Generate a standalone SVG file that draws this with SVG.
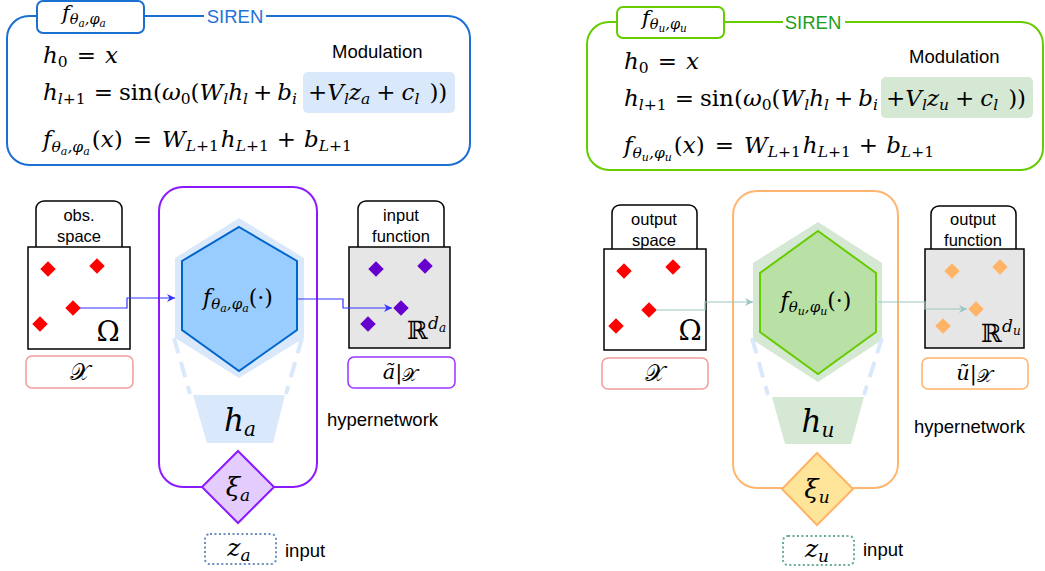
<svg xmlns="http://www.w3.org/2000/svg" width="1045" height="571" viewBox="0 0 1045 571">
<defs>
<style>
.s{font-family:"Liberation Sans",Arial,sans-serif;fill:#000}
.mi{font-family:"DejaVu Serif","Liberation Serif",serif;font-style:italic;fill:#000}
.mu{font-style:normal}
.cal{font-family:"DejaVu Serif","DejaVu Sans",serif;font-style:normal}
.ds{font-family:"DejaVu Serif","DejaVu Sans",serif;font-style:normal}
.tab{fill:#fff;stroke:#000;stroke-width:1.5}
.wbox{fill:#fff;stroke:#000;stroke-width:1.5}
.gbox{fill:#E6E6E6;stroke:#000;stroke-width:1.5}
.red{fill:#FF0000}
.pur{fill:#6600CC}
.org{fill:#FFB366}
.lbl{fill:#fff;stroke-width:1.5}
</style>
<marker id="arB" markerUnits="userSpaceOnUse" markerWidth="9" markerHeight="8" refX="8" refY="4" orient="auto"><path d="M0,0 L8,4 L0,8 L2.5,4 z" fill="#3333FF"/></marker>
<marker id="arT" markerUnits="userSpaceOnUse" markerWidth="9" markerHeight="8" refX="8" refY="4" orient="auto"><path d="M0,0 L8,4 L0,8 L2.5,4 z" fill="#9AC7BF"/></marker>
</defs>

<!-- SIREN boxes -->
<g id="siren-a">
<rect x="7" y="16" width="463" height="149" rx="22" fill="#fff" stroke="#1A6FD2" stroke-width="2"/>
<rect x="204" y="7" width="62" height="18" fill="#fff"/>
<text class="s" x="235" y="23" font-size="18.5" text-anchor="middle" style="fill:#1F72D6">SIREN</text>
<rect x="37" y="1" width="107" height="32" rx="6" fill="#fff" stroke="#1A6FD2" stroke-width="2"/>
<text class="mi" x="62" y="20" font-size="21">f<tspan font-size="14.5" dy="4">θ</tspan><tspan font-size="10.5" dy="3">a</tspan><tspan font-size="14.5" dy="-3">,φ</tspan><tspan font-size="10.5" dy="3">a</tspan></text>
<text class="s" x="332" y="58" font-size="18.5">Modulation</text>
<rect x="303" y="72" width="152" height="41" rx="5" fill="#DAE8FC"/>
<text class="mi" x="43" y="63" font-size="23">h<tspan class="mu" font-size="15.5" dy="4">0</tspan><tspan class="mu" dx="9" dy="-4">=</tspan><tspan dx="9">x</tspan></text>
<text class="mi" x="43" y="100" font-size="23">h<tspan font-size="15.5" dy="4">l</tspan><tspan class="mu" font-size="15.5">+1</tspan><tspan class="mu" dx="8" dy="-4">=</tspan><tspan class="mu" dx="6">sin(</tspan><tspan>ω</tspan><tspan class="mu" font-size="15.5" dy="4">0</tspan><tspan class="mu" dy="-4">(</tspan><tspan>W</tspan><tspan font-size="15.5" dy="4">l</tspan><tspan dy="-4">h</tspan><tspan font-size="15.5" dy="4">l</tspan><tspan class="mu" dx="5" dy="-4">+</tspan><tspan dx="5">b</tspan><tspan font-size="15.5" dy="4">i</tspan></text>
<text class="mi" x="308" y="100" font-size="23"><tspan class="mu">+</tspan><tspan>V</tspan><tspan font-size="15.5" dy="4">l</tspan><tspan dy="-4">z</tspan><tspan font-size="15.5" dy="4">a</tspan><tspan class="mu" dx="6" dy="-4">+</tspan><tspan dx="6">c</tspan><tspan font-size="15.5" dy="4">l</tspan><tspan class="mu" dx="10" dy="-4">))</tspan></text>
<text class="mi" x="43" y="147" font-size="23">f<tspan font-size="15.5" dy="5">θ</tspan><tspan font-size="11" dy="3">a</tspan><tspan font-size="15.5" dy="-3">,φ</tspan><tspan font-size="11" dy="3">a</tspan><tspan class="mu" dx="2" dy="-8">(</tspan><tspan>x</tspan><tspan class="mu">)</tspan><tspan class="mu" dx="10">=</tspan><tspan dx="10">W</tspan><tspan font-size="15.5" dy="4">L</tspan><tspan class="mu" font-size="15.5">+1</tspan><tspan dx="2" dy="-4">h</tspan><tspan font-size="15.5" dy="4">L</tspan><tspan class="mu" font-size="15.5">+1</tspan><tspan class="mu" dx="8" dy="-4">+</tspan><tspan dx="8">b</tspan><tspan font-size="15.5" dy="4">L</tspan><tspan class="mu" font-size="15.5">+1</tspan></text>
</g>

<g id="siren-u">
<rect x="587" y="22" width="456" height="148" rx="22" fill="#fff" stroke="#66CC00" stroke-width="2"/>
<rect x="783" y="13" width="62" height="18" fill="#fff"/>
<text class="s" x="813" y="29" font-size="18.5" text-anchor="middle" style="fill:#1E9E1E">SIREN</text>
<rect x="617" y="7" width="107" height="31" rx="6" fill="#fff" stroke="#66CC00" stroke-width="2"/>
<text class="mi" x="642" y="25" font-size="21">f<tspan font-size="14.5" dy="4">θ</tspan><tspan font-size="10.5" dy="3">u</tspan><tspan font-size="14.5" dy="-3">,φ</tspan><tspan font-size="10.5" dy="3">u</tspan></text>
<text class="s" x="909" y="63" font-size="18.5">Modulation</text>
<rect x="881" y="77" width="152" height="41" rx="5" fill="#D5E8D4"/>
<text class="mi" x="624" y="69" font-size="23">h<tspan class="mu" font-size="15.5" dy="4">0</tspan><tspan class="mu" dx="9" dy="-4">=</tspan><tspan dx="9">x</tspan></text>
<text class="mi" x="624" y="106" font-size="23">h<tspan font-size="15.5" dy="4">l</tspan><tspan class="mu" font-size="15.5">+1</tspan><tspan class="mu" dx="8" dy="-4">=</tspan><tspan class="mu" dx="6">sin(</tspan><tspan>ω</tspan><tspan class="mu" font-size="15.5" dy="4">0</tspan><tspan class="mu" dy="-4">(</tspan><tspan>W</tspan><tspan font-size="15.5" dy="4">l</tspan><tspan dy="-4">h</tspan><tspan font-size="15.5" dy="4">l</tspan><tspan class="mu" dx="5" dy="-4">+</tspan><tspan dx="5">b</tspan><tspan font-size="15.5" dy="4">i</tspan></text>
<text class="mi" x="886" y="106" font-size="23"><tspan class="mu">+</tspan><tspan>V</tspan><tspan font-size="15.5" dy="4">l</tspan><tspan dy="-4">z</tspan><tspan font-size="15.5" dy="4">u</tspan><tspan class="mu" dx="6" dy="-4">+</tspan><tspan dx="6">c</tspan><tspan font-size="15.5" dy="4">l</tspan><tspan class="mu" dx="10" dy="-4">))</tspan></text>
<text class="mi" x="624" y="153" font-size="23">f<tspan font-size="15.5" dy="5">θ</tspan><tspan font-size="11" dy="3">u</tspan><tspan font-size="15.5" dy="-3">,φ</tspan><tspan font-size="11" dy="3">u</tspan><tspan class="mu" dx="2" dy="-8">(</tspan><tspan>x</tspan><tspan class="mu">)</tspan><tspan class="mu" dx="10">=</tspan><tspan dx="10">W</tspan><tspan font-size="15.5" dy="4">L</tspan><tspan class="mu" font-size="15.5">+1</tspan><tspan dx="2" dy="-4">h</tspan><tspan font-size="15.5" dy="4">L</tspan><tspan class="mu" font-size="15.5">+1</tspan><tspan class="mu" dx="8" dy="-4">+</tspan><tspan dx="8">b</tspan><tspan font-size="15.5" dy="4">L</tspan><tspan class="mu" font-size="15.5">+1</tspan></text>
</g>

<!-- Left: observation space -->
<g id="obs-space">
<rect class="tab" x="36" y="201" width="86" height="56" rx="8"/>
<text class="s" x="79" y="221" font-size="16.5" text-anchor="middle">obs.</text>
<text class="s" x="79" y="242" font-size="16.5" text-anchor="middle">space</text>
<rect class="wbox" x="28" y="247" width="102" height="102"/>
<rect class="red" x="-5.5" y="-5.5" width="11" height="11" transform="translate(48,269) rotate(45)"/>
<rect class="red" x="-5.5" y="-5.5" width="11" height="11" transform="translate(97,266) rotate(45)"/>
<rect class="red" x="-5.5" y="-5.5" width="11" height="11" transform="translate(73,308) rotate(45)"/>
<rect class="red" x="-5.5" y="-5.5" width="11" height="11" transform="translate(40,324) rotate(45)"/>
<text class="mi mu" x="108" y="341" font-size="28" text-anchor="middle">Ω</text>
</g>
<g id="x-a">
<rect class="lbl" x="26" y="356" width="107" height="32" rx="6" stroke="#F19C99"/>
<text class="cal" x="80" y="380" font-size="23" text-anchor="middle">𝒳</text>
</g>

<!-- Left hypernetwork -->
<g id="hyper-a">
<rect x="159" y="187" width="158" height="300" rx="24" fill="none" stroke="#8C1AFF" stroke-width="2"/>
<polygon points="239,218 304,258 304,338 239,378 175,338 175,258" fill="#DAE8FC"/>
<polygon points="239,227 297,261 297,330 239,371 182,330 182,261" fill="#99CCFF" stroke="#0066CC" stroke-width="2"/>
<text class="mi" x="238" y="305" font-size="22" text-anchor="middle">f<tspan font-size="15" dy="4">θ</tspan><tspan font-size="11" dy="3">a</tspan><tspan font-size="15" dy="-3">,φ</tspan><tspan font-size="11" dy="3">a</tspan><tspan class="mu" dy="-7">(·)</tspan></text>
<line x1="174" y1="338" x2="190" y2="394" stroke="#DAE8FC" stroke-width="4" stroke-dasharray="16,9"/>
<line x1="302" y1="338" x2="286" y2="394" stroke="#DAE8FC" stroke-width="4" stroke-dasharray="16,9"/>
<polygon points="193,395 285,395 273,443 207,443" fill="#DAE8FC"/>
<text class="mi" x="240" y="431" font-size="31" text-anchor="middle">h<tspan font-size="20" dy="5">a</tspan></text>
<text class="s" x="327" y="426" font-size="18.5">hypernetwork</text>
</g>
<g id="xi-a">
<polygon points="238,451 274,487 238,523 202,487" fill="#E5CCFF" stroke="#8C1AFF" stroke-width="2"/>
<text class="mi" x="238" y="496" font-size="26" text-anchor="middle">ξ<tspan font-size="17" dy="5">a</tspan></text>
</g>
<g id="z-a">
<rect x="205" y="534" width="71" height="30" rx="5" fill="#fff" stroke="#6C8EBF" stroke-width="2" stroke-dasharray="2,2.5"/>
<text class="mi" x="239" y="556" font-size="25" text-anchor="middle">z<tspan font-size="17" dy="5">a</tspan></text>
<text class="s" x="285" y="557" font-size="18.5">input</text>
</g>

<!-- Left: input function -->
<g id="input-function">
<rect class="tab" x="358" y="201" width="86" height="56" rx="8"/>
<text class="s" x="401" y="221" font-size="16.5" text-anchor="middle">input</text>
<text class="s" x="401" y="242" font-size="16.5" text-anchor="middle">function</text>
<rect class="gbox" x="349" y="247" width="101" height="101"/>
<rect class="pur" x="-5.5" y="-5.5" width="11" height="11" transform="translate(376,269) rotate(45)"/>
<rect class="pur" x="-5.5" y="-5.5" width="11" height="11" transform="translate(425,266) rotate(45)"/>
<rect class="pur" x="-5.5" y="-5.5" width="11" height="11" transform="translate(401,308) rotate(45)"/>
<rect class="pur" x="-5.5" y="-5.5" width="11" height="11" transform="translate(368,324) rotate(45)"/>
<text class="ds" x="407" y="339" font-size="25">ℝ</text>
<text class="mi" x="428" y="329" font-size="17">d<tspan font-size="12" dy="3">a</tspan></text>
</g>
<g id="a-tilde">
<rect class="lbl" x="348" y="357" width="107" height="31" rx="6" stroke="#9933FF"/>
<text class="mi" x="400" y="379" font-size="21" text-anchor="middle">ã<tspan class="mu">|</tspan><tspan class="cal" font-size="18" dy="2">𝒳</tspan></text>
</g>

<!-- Right: output space -->
<g id="output-space">
<rect class="tab" x="612" y="205" width="85" height="55" rx="8"/>
<text class="s" x="654" y="225" font-size="16.5" text-anchor="middle">output</text>
<text class="s" x="654" y="246" font-size="16.5" text-anchor="middle">space</text>
<rect class="wbox" x="604" y="249" width="102" height="101"/>
<rect class="red" x="-5.5" y="-5.5" width="11" height="11" transform="translate(624,271) rotate(45)"/>
<rect class="red" x="-5.5" y="-5.5" width="11" height="11" transform="translate(673,267) rotate(45)"/>
<rect class="red" x="-5.5" y="-5.5" width="11" height="11" transform="translate(649,310) rotate(45)"/>
<rect class="red" x="-5.5" y="-5.5" width="11" height="11" transform="translate(616,326) rotate(45)"/>
<text class="mi mu" x="690" y="340" font-size="28" text-anchor="middle">Ω</text>
</g>
<g id="x-u">
<rect class="lbl" x="602" y="358" width="106" height="31" rx="6" stroke="#F19C99"/>
<text class="cal" x="655" y="381" font-size="23" text-anchor="middle">𝒳</text>
</g>

<!-- Right hypernetwork -->
<g id="hyper-u">
<rect x="733" y="191" width="165" height="297" rx="24" fill="none" stroke="#FFB570" stroke-width="2"/>
<polygon points="818,222 882,263 882,340 818,382 753,340 753,263" fill="#D5E8D4"/>
<polygon points="818,231 876,273 876,332 818,374 760,332 760,273" fill="#B9E0A5" stroke="#66CC00" stroke-width="2"/>
<text class="mi" x="816" y="308" font-size="22" text-anchor="middle">f<tspan font-size="15" dy="4">θ</tspan><tspan font-size="11" dy="3">u</tspan><tspan font-size="15" dy="-3">,φ</tspan><tspan font-size="11" dy="3">u</tspan><tspan class="mu" dy="-7">(·)</tspan></text>
<line x1="752" y1="338" x2="768" y2="395" stroke="#DAE8FC" stroke-width="4" stroke-dasharray="16,9"/>
<line x1="882" y1="338" x2="864" y2="395" stroke="#DAE8FC" stroke-width="4" stroke-dasharray="16,9"/>
<polygon points="772,397 864,397 851,444 785,444" fill="#D5E8D4"/>
<text class="mi" x="818" y="432" font-size="31" text-anchor="middle">h<tspan font-size="20" dy="5">u</tspan></text>
<text class="s" x="914" y="433" font-size="18.5">hypernetwork</text>
</g>
<g id="xi-u">
<polygon points="817,453 853,489 817,525 782,489" fill="#FFE599" stroke="#FFB366" stroke-width="2"/>
<text class="mi" x="817" y="498" font-size="26" text-anchor="middle">ξ<tspan font-size="17" dy="5">u</tspan></text>
</g>
<g id="z-u">
<rect x="783" y="536" width="71" height="29" rx="5" fill="#fff" stroke="#67AB9F" stroke-width="2" stroke-dasharray="2,2.5"/>
<text class="mi" x="817" y="557" font-size="25" text-anchor="middle">z<tspan font-size="17" dy="5">u</tspan></text>
<text class="s" x="863" y="556" font-size="18.5">input</text>
</g>

<!-- Right: output function -->
<g id="output-function">
<rect class="tab" x="931" y="206" width="85" height="54" rx="8"/>
<text class="s" x="973" y="225" font-size="16.5" text-anchor="middle">output</text>
<text class="s" x="973" y="246" font-size="16.5" text-anchor="middle">function</text>
<rect class="gbox" x="925" y="249" width="99" height="99"/>
<rect class="org" x="-5.5" y="-5.5" width="11" height="11" transform="translate(952,271) rotate(45)"/>
<rect class="org" x="-5.5" y="-5.5" width="11" height="11" transform="translate(1000,267) rotate(45)"/>
<rect class="org" x="-5.5" y="-5.5" width="11" height="11" transform="translate(976,309) rotate(45)"/>
<rect class="org" x="-5.5" y="-5.5" width="11" height="11" transform="translate(943,326) rotate(45)"/>
<text class="ds" x="981" y="342" font-size="25">ℝ</text>
<text class="mi" x="1002" y="332" font-size="17">d<tspan font-size="12" dy="3">u</tspan></text>
</g>
<g id="u-tilde">
<rect class="lbl" x="922" y="358" width="106" height="31" rx="6" stroke="#FFB366"/>
<text class="mi" x="974" y="380" font-size="21" text-anchor="middle">ũ<tspan class="mu">|</tspan><tspan class="cal" font-size="18" dy="2">𝒳</tspan></text>
</g>

<!-- Connectors -->
<g id="connectors" fill="none" stroke-width="1.2">
<path d="M80,308 H127 V298 H175" stroke="#3333FF" marker-end="url(#arB)"/>
<path d="M297,299 H343 V308 H392" stroke="#3333FF" marker-end="url(#arB)"/>
<path d="M656,310 H705 V302 H753" stroke="#9AC7BF" marker-end="url(#arT)"/>
<path d="M876,302 H925 V309 H967" stroke="#9AC7BF" marker-end="url(#arT)"/>
</g>
</svg>
